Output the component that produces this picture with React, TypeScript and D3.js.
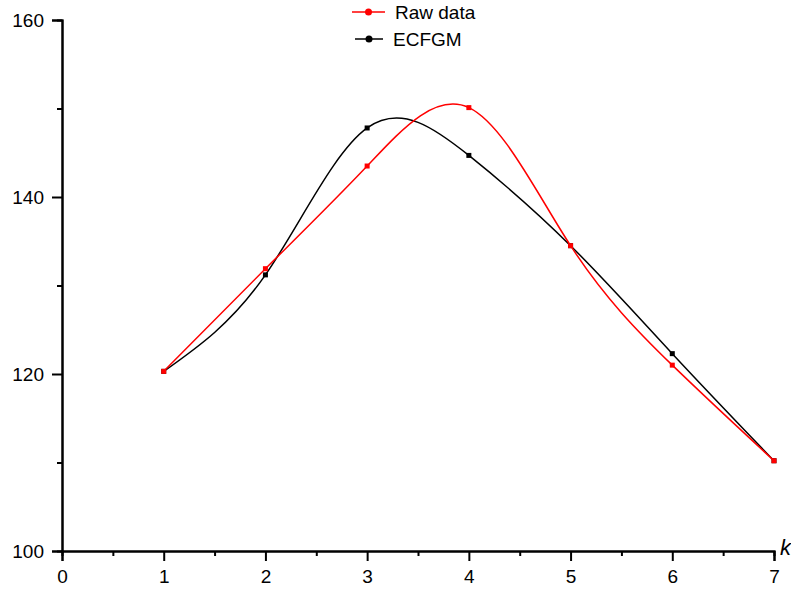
import React, { useEffect, useRef } from 'react';
import * as d3 from 'd3';

// values
const kValues = [1, 2, 3, 4, 5, 6, 7];
const rawData = [120.3, 131.9, 143.5, 150.1, 134.5, 121.0, 110.2];
const ecfgm = [120.3, 131.2, 147.8, 144.7, 134.5, 122.3, 110.2];
const xTicks = [0, 1, 2, 3, 4, 5, 6, 7];
const yTicks = [100, 120, 140, 160];

const App = () => {
  const svgRef = useRef<SVGSVGElement>(null);
  const width = 791;
  const height = 590;

  useEffect(() => {
    const svg = d3.select(svgRef.current);
    svg.selectAll('*').remove();

    const margin = { top: 20, right: 17, bottom: 39, left: 62 };
    const x = d3.scaleLinear().domain([0, 7]).range([margin.left, width - margin.right]);
    const y = d3.scaleLinear().domain([100, 160]).range([height - margin.bottom, margin.top]);
    const font = 'Liberation Sans, Arial, sans-serif';

    // x axis
    const xAxis = svg.append('g').attr('transform', `translate(0, ${y(100)})`);
    xAxis.call(d3.axisBottom(x).tickValues(d3.range(0.5, 7, 1)).tickSize(5).tickFormat(() => ''));
    xAxis.append('g').call(d3.axisBottom(x).tickValues(xTicks).tickSize(10).tickFormat(d3.format('d')));
    xAxis.selectAll('.domain').attr('stroke-width', 2);
    xAxis.selectAll('line').attr('stroke-width', 2);
    xAxis.selectAll('text')
      .attr('y', 14)
      .attr('dy', '0.95em')
      .style('font-family', font)
      .style('font-size', '19px')
      .attr('fill', '#000');

    // y axis
    const yAxis = svg.append('g').attr('transform', `translate(${x(0)}, 0)`);
    yAxis.call(d3.axisLeft(y).tickValues([110, 130, 150]).tickSize(5).tickFormat(() => ''));
    yAxis.append('g').call(d3.axisLeft(y).tickValues(yTicks).tickSize(10).tickFormat(d3.format('d')));
    yAxis.selectAll('.domain').attr('stroke-width', 2);
    yAxis.selectAll('line').attr('stroke-width', 2);
    yAxis.selectAll('text')
      .attr('x', -18)
      .style('font-family', font)
      .style('font-size', '19px')
      .attr('fill', '#000');

    // axis title
    svg.append('text')
      .attr('x', x(7) + 6)
      .attr('y', y(100) + 4)
      .style('font-family', font)
      .style('font-size', '22px')
      .style('font-style', 'italic')
      .text('k');

    const line = d3.line<number>()
      .x((d, i) => x(kValues[i]))
      .y(d => y(d))
      .curve(d3.curveNatural);

    const series = [
      { name: 'ECFGM', values: ecfgm, color: '#000000' },
      { name: 'Raw data', values: rawData, color: '#ff0000' },
    ];

    series.forEach(s => {
      svg.append('path')
        .datum(s.values)
        .attr('d', line)
        .attr('fill', 'none')
        .attr('stroke', s.color)
        .attr('stroke-width', 1.5);
      svg.selectAll(null)
        .data(s.values)
        .enter().append('rect')
        .attr('x', (d, i) => x(kValues[i]) - 2.5)
        .attr('y', d => y(d) - 2.5)
        .attr('width', 5)
        .attr('height', 5)
        .attr('fill', s.color);
    });

    // legend
    const legend = [
      { name: 'Raw data', color: '#ff0000', ly: 12, x1: 352, x2: 385 },
      { name: 'ECFGM', color: '#000000', ly: 39, x1: 355, x2: 383 },
    ];
    legend.forEach(l => {
      svg.append('line')
        .attr('x1', l.x1).attr('x2', l.x2)
        .attr('y1', l.ly).attr('y2', l.ly)
        .attr('stroke', l.color).attr('stroke-width', 1.5);
      svg.append('circle')
        .attr('cx', (l.x1 + l.x2) / 2).attr('cy', l.ly).attr('r', 3.5)
        .attr('fill', l.color);
      svg.append('text')
        .attr('x', l.x2 + 10)
        .attr('y', l.ly + 7)
        .style('font-family', font)
        .style('font-size', '19px')
        .text(l.name);
    });
  }, []);

  return (
    <svg ref={svgRef} width={width} height={height}
      style={{ position: 'absolute', left: 0, top: 0, background: '#fff' }} />
  );
};

export default App;
